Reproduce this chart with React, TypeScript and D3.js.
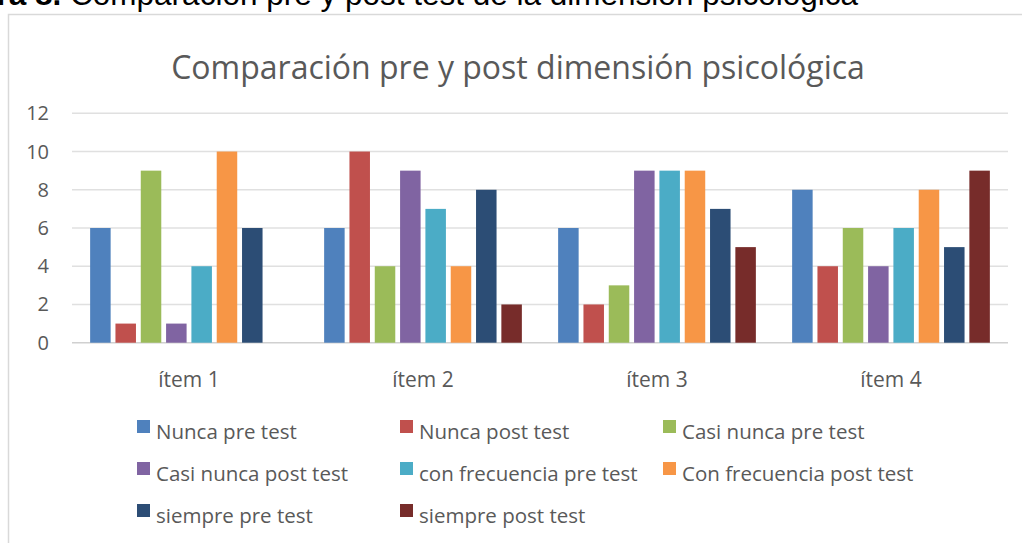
import React, { useEffect, useRef } from 'react';
import * as d3 from 'd3';

// Categories and series
const items = ['ítem 1', 'ítem 2', 'ítem 3', 'ítem 4'];
const seriesNames = [
  'Nunca pre test',
  'Nunca post test',
  'Casi nunca pre test',
  'Casi nunca post test',
  'con frecuencia pre test',
  'Con frecuencia post test',
  'siempre pre test',
  'siempre post test',
];
const nuncaPre = [6, 6, 6, 8];
const nuncaPost = [1, 10, 2, 4];
const casiNuncaPre = [9, 4, 3, 6];
const casiNuncaPost = [1, 9, 9, 4];
const frecuenciaPre = [4, 7, 9, 6];
const frecuenciaPost = [10, 4, 9, 8];
const siemprePre = [6, 8, 7, 5];
const siemprePost = [0, 2, 5, 9];
const yTicks = [0, 2, 4, 6, 8, 10, 12];
const colors = ['#4F81BD', '#C0504D', '#9BBB59', '#8064A2', '#4BACC6', '#F79646', '#2C4D75', '#772C2A'];

const W = 1022;
const H = 543;

function App() {
  const ref = useRef<SVGSVGElement>(null);

  useEffect(() => {
    const svg = d3.select(ref.current);
    svg.selectAll('*').remove();

    const values = [nuncaPre, nuncaPost, casiNuncaPre, casiNuncaPost, frecuenciaPre, frecuenciaPost, siemprePre, siemprePost];
    const font = '"Open Sans", sans-serif';

    // page caption, clipped at the top like in the source document
    const cap = svg.append('text')
      .attr('x', 858)
      .attr('y', 5)
      .attr('text-anchor', 'end')
      .attr('font-family', '"Liberation Sans", Arial, sans-serif')
      .attr('font-size', 31.5)
      .attr('fill', '#000');
    cap.append('tspan').attr('font-weight', 'bold').text('Figura 8. ');
    cap.append('tspan').text('Comparación pre y post test de la dimensión psicológica');

    // chart frame
    svg.append('rect')
      .attr('x', 8.5)
      .attr('y', 14.5)
      .attr('width', W + 20)
      .attr('height', H)
      .attr('fill', '#fff')
      .attr('stroke', '#d9d9d9')
      .attr('stroke-width', 1.5);

    // title
    svg.append('text')
      .attr('x', 518)
      .attr('y', 79)
      .attr('text-anchor', 'middle')
      .attr('font-family', font)
      .attr('font-size', 32)
      .attr('fill', '#595959')
      .text('Comparación pre y post dimensión psicológica');

    const x0 = d3.scaleBand<string>()
      .domain(items)
      .range([72, 1008])
      .paddingInner(0.155)
      .paddingOuter(0.0775);

    const x1 = d3.scaleBand<string>()
      .domain(seriesNames)
      .range([0, x0.bandwidth()])
      .paddingInner(0.19)
      .paddingOuter(0);

    const y = d3.scaleLinear().domain([0, 12]).range([342.7, 113.3]);

    // gridlines
    svg.append('g')
      .selectAll('line')
      .data(yTicks)
      .enter().append('line')
      .attr('x1', 72)
      .attr('x2', 1008)
      .attr('y1', d => y(d))
      .attr('y2', d => y(d))
      .attr('stroke', d => (d === 0 ? '#d0d0d0' : '#e0e0e0'))
      .attr('stroke-width', 1.6);

    // y labels
    svg.append('g')
      .selectAll('text')
      .data(yTicks)
      .enter().append('text')
      .attr('x', 49)
      .attr('y', d => y(d))
      .attr('dy', '0.35em')
      .attr('text-anchor', 'end')
      .attr('font-family', font)
      .attr('font-size', 20)
      .attr('fill', '#595959')
      .text(d => d);

    // bars
    const groups = svg.append('g')
      .selectAll('g')
      .data(items)
      .enter().append('g')
      .attr('transform', d => `translate(${x0(d)},0)`);

    groups.selectAll('rect')
      .data((_, i) => seriesNames.map((s, k) => ({ s, v: values[k][i], c: colors[k] })))
      .enter().append('rect')
      .attr('x', d => x1(d.s) as number)
      .attr('y', d => y(d.v))
      .attr('width', x1.bandwidth())
      .attr('height', d => y(0) - y(d.v))
      .attr('fill', d => d.c);

    // x labels
    svg.append('g')
      .selectAll('text')
      .data(items)
      .enter().append('text')
      .attr('x', d => (x0(d) as number) + x0.bandwidth() / 2)
      .attr('y', 387)
      .attr('text-anchor', 'middle')
      .attr('font-family', font)
      .attr('font-size', 21)
      .attr('fill', '#595959')
      .text(d => d);

    // legend, 3 columns
    const legend = svg.append('g')
      .selectAll('g')
      .data(seriesNames)
      .enter().append('g')
      .attr('transform', (_, i) => `translate(${137 + (i % 3) * 263},${440 + Math.floor(i / 3) * 42})`);

    legend.append('rect')
      .attr('x', 0)
      .attr('y', -20)
      .attr('width', 13)
      .attr('height', 13)
      .attr('fill', (_, i) => colors[i]);

    legend.append('text')
      .attr('x', 19)
      .attr('y', -1)
      .attr('font-family', font)
      .attr('font-size', 20.5)
      .attr('fill', '#595959')
      .text(d => d);
  }, []);

  return (
    <div style={{ position: 'absolute', left: 0, top: 0 }}>
      <svg ref={ref} width={W} height={H}></svg>
    </div>
  );
}

export default App;
